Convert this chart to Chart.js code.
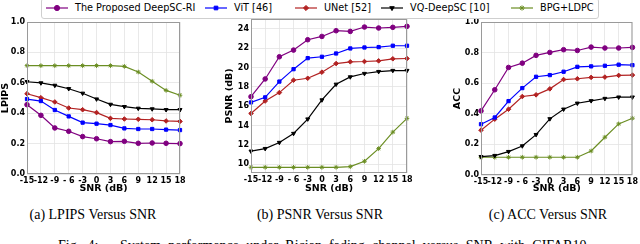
<!DOCTYPE html>
<html>
<head>
<meta charset="utf-8">
<script src="https://cdn.jsdelivr.net/npm/chart.js@4"></script>
<style>
  body { margin:0; width:640px; height:244px; overflow:hidden; background:#fff; position:relative; font-family:"DejaVu Sans", sans-serif; }
  .plot { position:absolute; top:0; }
  #legend { position:absolute; left:41px; top:-2px; width:556px; height:19px; border:1px solid #cfcfcf; border-radius:3px; background:#fff; z-index:5; }
  .item { position:absolute; top:2px; height:14px; font-size:9.7px; line-height:14px; color:#000; white-space:nowrap; }
  .item canvas { position:absolute; top:2px; }
  .cap { position:absolute; font-family:"Liberation Serif", serif; font-size:14px; line-height:14px; white-space:nowrap; color:#000; }
</style>
</head>
<body>
<div id="legend"></div>
<canvas id="cA" class="plot" width="190" height="200" style="left:0px"></canvas>
<canvas id="cB" class="plot" width="200" height="200" style="left:215px"></canvas>
<canvas id="cC" class="plot" width="195" height="200" style="left:445px"></canvas>
<div class="cap" style="left:0;width:186px;text-align:center;top:208px">(a) LPIPS Versus SNR</div>
<div class="cap" style="left:227px;width:186px;text-align:center;top:208px">(b) PSNR Versus SNR</div>
<div class="cap" style="left:455px;width:186px;text-align:center;top:208px">(c) ACC Versus SNR</div>
<div class="cap" style="left:58px;width:532px;top:239px;text-align:justify;text-align-last:justify">Fig. 4: &nbsp; System performance under Rician fading channel versus SNR with CIFAR10.</div>
<script>
var snr = ['-15', '-12', '-9', '- 6', '-3', '0', '3', '6', '9', '12', '15', '18'];

var names = ['The Proposed DeepSC-RI', 'ViT [46]', 'UNet [52]', 'VQ-DeepSC [10]', 'BPG+LDPC'];
var colors = ['#800080', '#0000ff', '#b22222', '#000000', '#6b8e23'];
var markers = ['circle', 'rect', 'rectRot', 'triangle', 'star'];
var rotations = [0, 0, 0, 180, 0];

// (a) LPIPS
var lpips_ours = [0.456, 0.386, 0.303, 0.281, 0.246, 0.232, 0.213, 0.215, 0.202, 0.204, 0.202, 0.200];
var lpips_vit  = [0.493, 0.480, 0.421, 0.379, 0.338, 0.331, 0.322, 0.300, 0.296, 0.296, 0.292, 0.289];
var lpips_unet = [0.528, 0.502, 0.474, 0.434, 0.423, 0.404, 0.366, 0.362, 0.360, 0.357, 0.349, 0.346];
var lpips_vq   = [0.607, 0.599, 0.583, 0.561, 0.531, 0.493, 0.458, 0.443, 0.432, 0.428, 0.423, 0.423];
var lpips_bpg  = [0.713, 0.713, 0.713, 0.713, 0.713, 0.713, 0.713, 0.708, 0.671, 0.610, 0.550, 0.518];
var lpips_ticks = [0, 0.2, 0.4, 0.6, 0.8, 1.0];

// (b) PSNR
var psnr_ours = [16.98, 18.81, 21.10, 21.79, 22.86, 23.20, 23.79, 23.72, 24.17, 24.07, 24.14, 24.24];
var psnr_vit  = [16.39, 16.91, 18.54, 19.82, 20.96, 21.10, 21.44, 21.96, 22.06, 22.10, 22.24, 22.24];
var psnr_unet = [15.25, 16.53, 17.40, 18.68, 18.88, 19.51, 20.40, 20.58, 20.61, 20.68, 20.89, 20.92];
var psnr_vq   = [11.35, 11.62, 12.25, 13.18, 14.67, 16.64, 18.26, 19.02, 19.37, 19.57, 19.68, 19.68];
var psnr_bpg  = [9.69, 9.69, 9.69, 9.69, 9.69, 9.69, 9.69, 9.76, 10.31, 11.62, 13.32, 14.74];
var psnr_ticks = [10, 12, 14, 16, 18, 20, 22, 24];

// (c) ACC
var acc_ours = [0.419, 0.557, 0.703, 0.731, 0.782, 0.801, 0.819, 0.814, 0.836, 0.830, 0.830, 0.834];
var acc_vit  = [0.332, 0.376, 0.483, 0.568, 0.642, 0.653, 0.675, 0.707, 0.710, 0.714, 0.721, 0.718];
var acc_unet = [0.293, 0.365, 0.430, 0.513, 0.524, 0.563, 0.624, 0.629, 0.638, 0.640, 0.651, 0.653];
var acc_vq   = [0.120, 0.127, 0.153, 0.190, 0.264, 0.367, 0.430, 0.469, 0.485, 0.500, 0.509, 0.509];
var acc_bpg  = [0.116, 0.116, 0.116, 0.116, 0.116, 0.116, 0.116, 0.116, 0.157, 0.247, 0.334, 0.371];
var acc_ticks = [0, 0.2, 0.4, 0.6, 0.8, 1.0];

var tickFont = { family: 'DejaVu Sans', size: 8, weight: 'bold' };
var titleFont = { family: 'DejaVu Sans', size: 9.5, weight: 'bold' };

// frame round the plot area, like matplotlib spines
var framePlugin = {
  id: 'frame',
  afterDatasetsDraw: function(chart) {
    var a = chart.chartArea, ctx = chart.ctx;
    ctx.save();
    ctx.strokeStyle = '#9a9a9a';
    ctx.lineWidth = 1;
    ctx.strokeRect(a.left + 0.5, a.top + 0.5, a.right - a.left - 1, a.bottom - a.top - 1);
    ctx.restore();
  }
};

var buildSets = function(series) {
  return series.map(function(vals, i) {
    return {
      label: names[i],
      data: vals,
      borderColor: colors[i],
      backgroundColor: colors[i],
      borderWidth: 1.2,
      pointStyle: markers[i],
      pointRotation: rotations[i],
      pointRadius: 2.3,
      pointBorderWidth: 1,
      tension: 0,
      clip: false
    };
  });
};

var drawPanel = function(id, series, ymin, ymax, yticks, digits, ytitle, lay) {
  new Chart(document.getElementById(id), {
    type: 'line',
    data: { labels: snr, datasets: buildSets(series) },
    plugins: [framePlugin],
    options: {
      responsive: false,
      animation: false,
      events: [],
      layout: { padding: { top: lay.top, right: lay.right, left: 0, bottom: 0 } },
      plugins: { legend: { display: false }, tooltip: { enabled: false } },
      scales: {
        x: {
          type: 'category',
          offset: false,
          grid: { color: '#e3e3e3', lineWidth: 0.8, drawTicks: false },
          border: { display: false },
          ticks: { font: tickFont, color: '#000', padding: 2, autoSkip: false, maxRotation: 0 },
          title: { display: true, text: 'SNR (dB)', font: titleFont, color: '#000', padding: { top: 0, bottom: 6 } },
          afterFit: function(s) { s.height = lay.xh; }
        },
        y: {
          min: ymin,
          max: ymax,
          grid: { color: '#e3e3e3', lineWidth: 0.8, drawTicks: false },
          border: { display: false },
          ticks: { font: tickFont, color: '#000', padding: 2, callback: function(v) { return v.toFixed(digits); } },
          afterBuildTicks: function(s) { s.ticks = yticks.map(function(v) { return { value: v }; }); },
          title: { display: true, text: ytitle, font: titleFont, color: '#000', padding: { top: lay.tp, bottom: 0 } },
          afterFit: function(s) { s.width = lay.yw; }
        }
      }
    }
  });
};

drawPanel('cA', [lpips_ours, lpips_vit, lpips_unet, lpips_vq, lpips_bpg], 0, 1, lpips_ticks, 1, 'LPIPS',
  { top: 22, right: 10, xh: 26, yw: 27, tp: 0 });
drawPanel('cB', [psnr_ours, psnr_vit, psnr_unet, psnr_vq, psnr_bpg], 9.1, 25.0, psnr_ticks, 0, 'PSNR (dB)',
  { top: 19, right: 8, xh: 27, yw: 36, tp: 9 });
drawPanel('cC', [acc_ours, acc_vit, acc_unet, acc_vq, acc_bpg], 0, 1, acc_ticks, 1, 'ACC',
  { top: 22, right: 7, xh: 25, yw: 36, tp: 7 });

// shared legend above the three panels
var legendText = [74, 233, 323, 409, 539];
var legend = document.getElementById('legend');
names.forEach(function(n, i) {
  var item = document.createElement('div');
  item.className = 'item';
  item.style.left = (legendText[i] - 41 - 29) + 'px';
  var c = document.createElement('canvas');
  c.width = 22; c.height = 10;
  item.appendChild(c);
  var sp = document.createElement('span');
  sp.style.marginLeft = '29px';
  sp.textContent = n;
  item.appendChild(sp);
  legend.appendChild(item);
  var ctx = c.getContext('2d');
  ctx.strokeStyle = colors[i];
  ctx.fillStyle = colors[i];
  ctx.lineWidth = 1.2;
  ctx.beginPath(); ctx.moveTo(0, 5); ctx.lineTo(22, 5); ctx.stroke();
  ctx.lineWidth = 1;
  Chart.helpers.drawPoint(ctx, { pointStyle: markers[i], radius: 2.6, rotation: rotations[i], borderWidth: 1 }, 11, 5);
});
</script>
</body>
</html>
